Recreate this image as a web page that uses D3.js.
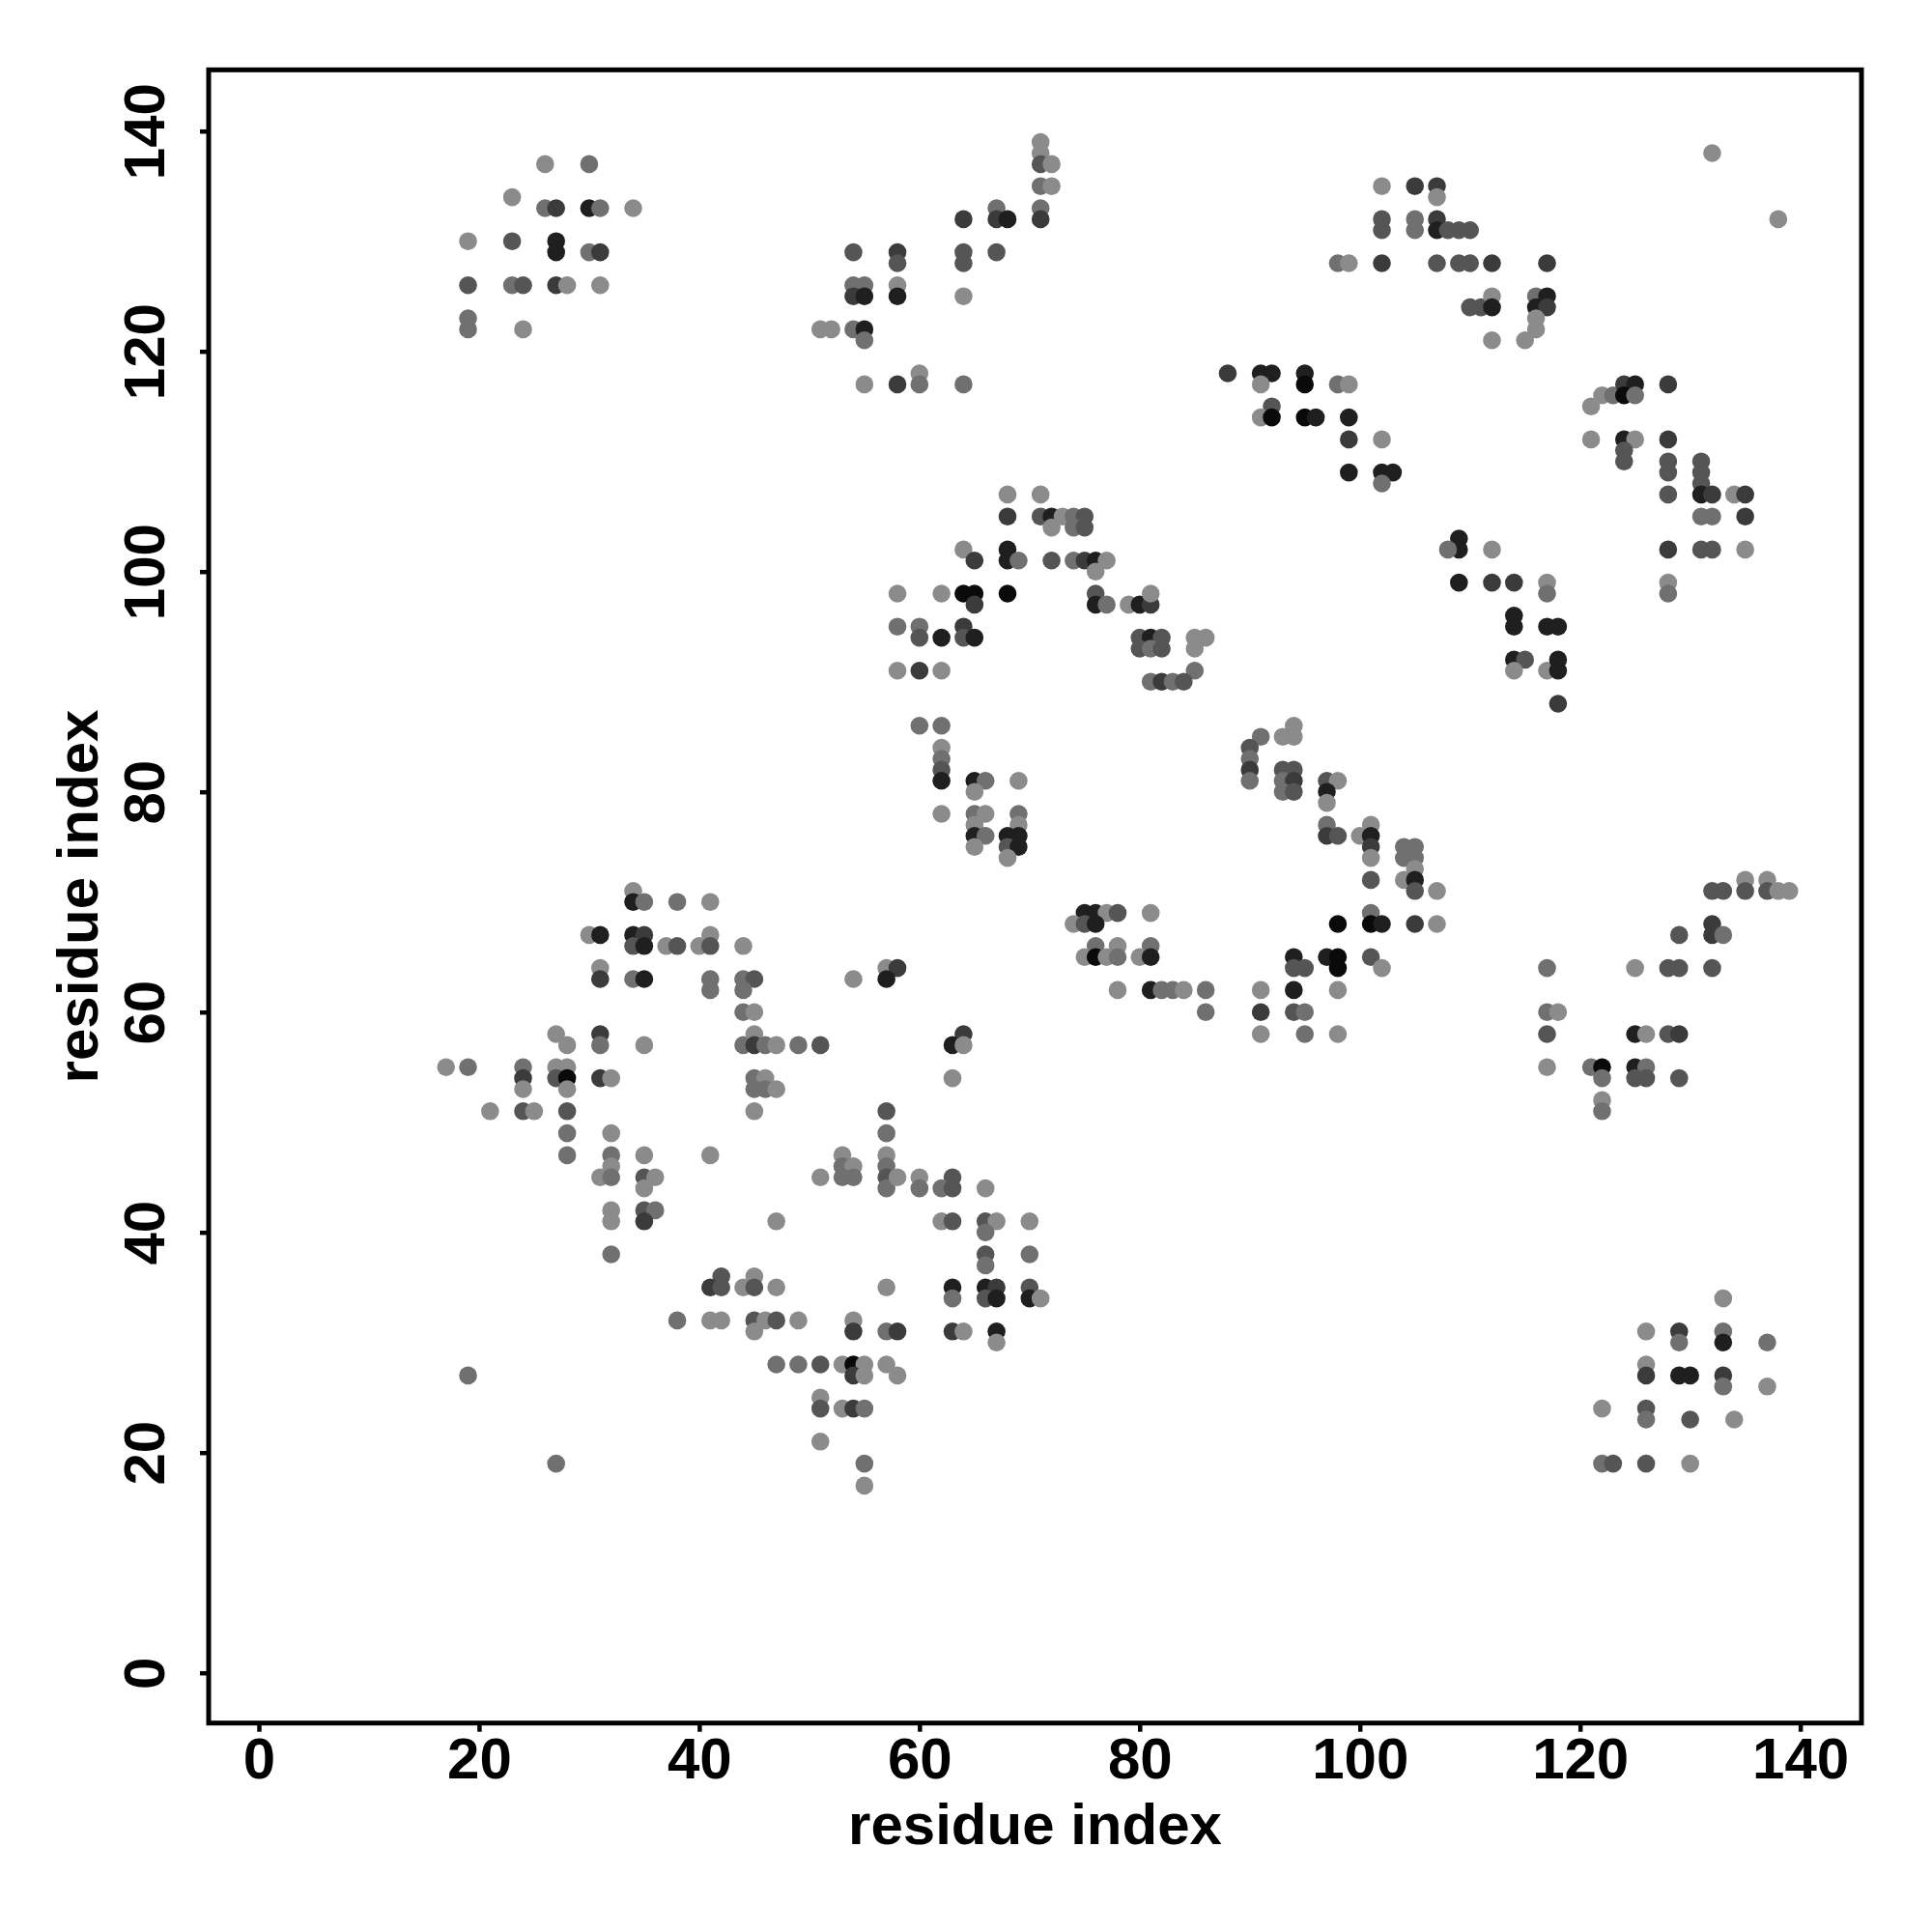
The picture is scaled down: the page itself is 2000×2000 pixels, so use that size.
<!DOCTYPE html>
<html><head><meta charset="utf-8">
<script src="https://cdn.jsdelivr.net/npm/d3@7"></script>
<style>body{margin:0;background:#fff}</style>
</head><body><svg id="chart" width="2000" height="2000"></svg>
<script>
// residue index pairs (x = residue i, y = residue j) and shade level (1 = light ... 6 = black)
const residueI = [
 26,30,23,26,27,30,31,34,19,23,27,27,30,31,19,23,24,27,28,31,19,19,24,
 71,71,71,72,71,72,67,71,64,67,68,71,54,58,58,64,64,67,54,55,54,55,58,58,64,51,52,54,55,55,55,58,60,60,64,
 68,71,68,71,72,73,74,75,72,74,75,64,65,68,68,69,72,74,75,76,77,76,58,62,64,65,65,68,76,76,
 77,79,80,81,81,58,60,60,62,64,64,65,80,81,82,80,81,82,85,86,85,85,81,82,83,84,58,60,62,
 60,62,62,62,62,62,65,66,65,69,62,65,66,65,65,66,65,69,69,68,69,68,69,68,
 75,76,77,78,81,74,75,76,76,78,81,75,76,77,78,80,81,78,81,82,83,84,86,86,54,57,58,57,64,63,64,63,
 91,93,94,94,90,90,90,90,93,94,93,94,93,94,97,98,97,97,97,97,98,100,101,101,101,101,101,104,105,104,
 105,105,104,105,105,107,101,101,102,98,105,107,101,102,94,94,95,97,98,98,91,94,98,91,94,95,91,95,98,
 88,91,92,91,95,95,98,99,92,91,92,95,96,99,99,102,99,102,103,102,
 102,105,107,107,102,102,105,105,107,107,108,109,110,98,99,102,107,109,110,112,117,110,111,112,112,116,117,116,117,116,116,115,112,
 109,109,108,112,109,112,114,117,117,114,114,117,118,114,115,114,117,118,118,118,
 121,122,123,124,125,124,125,128,121,124,125,128,124,124,128,128,131,131,131,131,132,128,134,135,131,132,135,128,131,132,135,128,128,132,138,
 132,133,135,135,137,137,138,139,132,132,133,129,117,125,128,129,132,117,118,117,125,126,128,129,117,121,122,122,125,126,125,126,129,122,122,
 133,126,129,129,133,133,137,126,126,129,130,133,133,137,122,126,126,130,134,122,123,126,130,
 34,34,35,38,41,30,31,34,35,34,35,37,38,40,41,41,44,31,31,34,35,41,41,44,45,44,44,45,
 27,28,31,31,35,17,19,24,24,24,27,28,27,28,28,31,32,21,24,25,28,28,32,28,32,32,31,32,35,35,
 36,35,41,32,32,35,36,35,32,47,42,41,42,44,45,45,47,38,41,42,45,46,47,45,47,19,27,44,45,45,46,47,45,46,45,46,47,45,
 49,51,57,57,57,57,57,57,58,53,53,54,53,54,51,60,60,63,62,63,66,62,63,66,67,66,70,66,66,70,
 57,63,63,66,67,66,67,70,70,71,49,54,54,57,58,63,64,67,67,49,51,53,54,55,54,55,57,58,51,51,53,54,55,51,55,55
];
const residueJ = [
 137,137,134,133,133,133,133,133,130,130,130,129,129,129,126,126,126,126,126,126,123,122,122,
 139,138,137,137,135,135,133,133,132,132,132,132,129,129,128,129,128,129,126,126,125,125,126,125,125,122,122,122,122,121,117,117,118,117,117,
 107,107,105,105,105,105,105,105,104,104,104,102,101,102,101,101,101,101,101,101,101,100,98,98,98,98,97,98,98,97,
 97,97,97,97,98,95,95,94,94,95,94,94,94,94,94,93,93,93,94,94,93,91,90,90,90,90,91,91,91,
 86,86,84,83,82,81,81,81,80,81,78,78,78,77,76,76,75,78,77,76,76,75,75,74,
 69,69,69,69,69,68,68,68,66,66,66,65,65,65,65,65,65,62,62,62,62,62,62,60,63,64,64,63,58,57,57,54,
 85,85,85,86,84,83,82,81,82,82,81,81,80,80,81,81,80,79,77,76,76,76,77,76,75,74,72,75,75,74,
 74,73,72,72,71,71,69,68,68,68,68,68,65,64,65,64,64,65,65,64,62,62,62,60,60,60,58,58,58,
 118,118,118,117,118,117,117,117,115,114,114,114,114,114,112,112,109,109,109,108,
 135,135,135,134,132,131,132,131,132,131,131,131,131,128,128,128,128,128,128,128,128,124,124,125,124,125,125,124,124,123,122,121,121,
 103,102,102,102,99,99,99,99,98,96,95,95,95,92,92,91,91,92,91,88,
 115,116,116,117,117,116,116,117,112,112,112,112,111,110,110,109,110,109,108,107,107,107,107,107,105,105,105,102,102,102,102,99,98,138,132,
 71,71,72,71,72,71,71,71,68,67,67,67,64,64,64,64,64,60,60,58,58,58,58,58,55,55,55,54,55,55,54,54,54,52,51,
 34,31,31,30,31,30,30,28,27,27,27,27,26,26,24,24,23,23,23,19,19,19,19,
 71,70,70,70,70,67,67,67,67,66,66,66,66,66,67,66,66,64,63,63,63,63,62,63,63,62,60,60,
 58,57,58,57,57,55,55,55,54,53,55,55,54,54,53,54,54,51,51,51,51,49,49,47,47,46,45,45,47,45,
 45,44,47,42,41,42,42,41,38,41,36,35,35,35,36,35,35,32,32,32,32,32,32,31,28,27,19,57,58,57,57,57,54,54,53,53,53,51,
 57,57,51,49,47,46,45,44,45,47,46,46,45,45,45,45,44,45,44,44,44,41,41,41,41,40,41,38,37,38,
 35,35,34,35,35,34,34,35,34,34,32,32,31,31,31,31,31,31,30,28,28,28,28,28,27,27,28,27,25,24,24,24,24,21,19,17
];
const shadeLevel = [
 1,2,1,2,4,5,2,1,1,3,5,5,2,4,3,2,3,4,1,1,2,2,1,
 1,1,3,1,2,1,2,2,4,4,5,4,3,4,3,3,3,3,2,2,4,5,1,5,1,1,1,2,5,2,1,4,1,2,2,
 1,1,4,3,5,1,2,3,1,2,3,1,4,5,5,2,3,2,4,5,1,1,1,1,6,6,4,6,3,5,
 2,1,5,4,1,2,2,3,5,4,3,5,3,5,3,3,2,3,1,1,1,2,2,4,2,3,1,4,1,
 2,2,1,2,3,5,5,2,1,1,1,2,1,1,5,2,1,2,1,5,5,3,5,1,
 5,5,1,3,1,1,3,5,2,1,2,1,6,1,2,1,5,1,5,2,2,1,2,2,1,1,4,5,4,5,1,1,
 2,1,1,1,3,2,4,2,3,3,2,4,2,3,3,1,5,1,2,4,3,1,1,5,4,1,3,2,2,2,
 2,1,1,5,3,1,2,6,5,6,4,1,3,1,5,3,3,5,6,6,1,5,1,4,3,2,1,2,1,
 4,5,5,1,5,6,2,1,3,1,6,6,5,5,4,1,5,5,5,2,
 1,4,4,1,3,3,2,2,4,5,3,3,3,2,1,4,3,3,3,4,4,3,3,1,5,2,5,5,4,1,1,1,1,
 5,5,2,1,5,4,4,1,2,5,5,5,5,5,3,1,1,5,5,4,
 1,1,2,4,5,6,2,4,1,5,1,4,3,3,3,3,3,3,3,5,4,3,1,4,2,2,4,4,3,3,1,1,2,1,1,
 3,3,1,3,1,3,1,1,4,4,2,3,2,1,3,3,3,2,1,3,5,1,3,4,1,2,6,2,5,2,3,3,3,1,2,
 1,1,4,2,2,5,2,1,4,5,5,4,2,1,1,3,2,3,1,2,3,3,1,
 1,5,2,2,1,1,5,5,4,3,5,1,3,1,1,3,1,1,4,2,5,2,2,2,3,2,2,1,
 1,1,4,2,1,1,2,2,4,1,1,1,3,6,1,4,1,1,3,1,3,2,1,2,2,1,1,2,1,3,
 1,1,1,1,1,3,2,4,2,1,3,4,3,1,1,3,1,2,1,1,3,1,3,1,2,2,2,2,1,4,2,1,2,1,2,2,1,1,
 2,3,3,2,1,2,3,2,1,1,2,1,2,2,1,1,2,3,2,3,1,1,3,3,1,2,1,3,2,2,
 1,5,2,5,4,3,5,3,5,1,1,1,4,2,4,4,1,5,1,2,3,1,6,1,4,1,1,1,1,3,1,4,2,1,2,1
];
const tickValues = [0, 20, 40, 60, 80, 100, 120, 140];
const xTitle = "residue index";
const yTitle = "residue index";
const grayLevels = ["#8b8b8b", "#707070", "#555555", "#3b3b3b", "#1f1f1f", "#0a0a0a"];

const FONT = "'Liberation Sans', Arial, Helvetica, sans-serif";
const svg = d3.select("#chart");
svg.append("rect").attr("width", 2000).attr("height", 2000).attr("fill", "#fff");

const x = d3.scaleLinear().domain([-4.56, 145.56]).range([216, 1927]);
const y = d3.scaleLinear().domain([-4.56, 145.56]).range([1783.7, 72.3]);
const color = d3.scaleOrdinal().domain([1, 2, 3, 4, 5, 6]).range(grayLevels);

const pts = residueI.map((d, k) => ({ i: d, j: residueJ[k], s: shadeLevel[k] }));
svg.append("g").selectAll("circle").data(pts).join("circle")
  .attr("cx", d => x(d.i)).attr("cy", d => y(d.j))
  .attr("r", 9.3).attr("fill", d => color(d.s));

// frame
svg.append("rect").attr("x", 216).attr("y", 72.3).attr("width", 1711).attr("height", 1711.4)
  .attr("fill", "none").attr("stroke", "#000").attr("stroke-width", 5);

// x axis
const gx = svg.append("g").attr("transform", "translate(0,1783.7)")
  .call(d3.axisBottom(x).tickValues(tickValues).tickSize(9).tickFormat(d3.format("d")));
gx.select(".domain").remove();
gx.attr("font-family", FONT).attr("font-size", 60).attr("font-weight", "bold");
gx.selectAll(".tick line").attr("stroke", "#000").attr("stroke-width", 4.5);
gx.selectAll(".tick text").attr("y", 57).attr("dy", 0).attr("fill", "#000");

// y axis
const gy = svg.append("g").attr("transform", "translate(216,0)")
  .call(d3.axisLeft(y).tickValues(tickValues).tickSize(9).tickFormat(d3.format("d")));
gy.select(".domain").remove();
gy.attr("font-family", FONT).attr("font-size", 60).attr("font-weight", "bold");
gy.selectAll(".tick line").attr("stroke", "#000").attr("stroke-width", 4.5);
gy.selectAll(".tick text").attr("x", 0).attr("y", 0).attr("dy", 0)
  .attr("text-anchor", "middle").attr("fill", "#000")
  .attr("transform", "translate(-46,0) rotate(-90)");

// titles
svg.append("text").attr("x", (216 + 1927) / 2).attr("y", 1909)
  .attr("text-anchor", "middle").attr("font-family", FONT).attr("font-size", 60)
  .attr("font-weight", "bold").text(xTitle);
svg.append("text").attr("transform", `translate(101,${(72.3 + 1783.7) / 2}) rotate(-90)`)
  .attr("text-anchor", "middle").attr("font-family", FONT).attr("font-size", 60)
  .attr("font-weight", "bold").text(yTitle);
</script></body></html>
